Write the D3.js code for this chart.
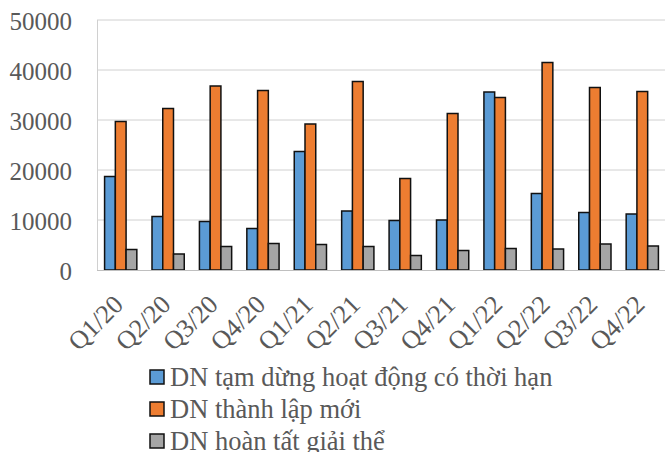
<!DOCTYPE html>
<html>
<head>
<meta charset="utf-8">
<script src="https://cdn.jsdelivr.net/npm/d3@7"></script>
<style>
  body { margin: 0; background: #fff; }
</style>
</head>
<body>
<svg width="665" height="452"></svg>
<script>
var quarters = ['Q1/20', 'Q2/20', 'Q3/20', 'Q4/20', 'Q1/21', 'Q2/21', 'Q3/21', 'Q4/21', 'Q1/22', 'Q2/22', 'Q3/22', 'Q4/22'];
var tamDung = [18700, 10700, 9700, 8300, 23700, 11800, 9900, 10000, 35600, 15300, 11500, 11200];
var thanhLap = [29700, 32300, 36800, 35900, 29200, 37700, 18300, 31300, 34500, 41500, 36500, 35700];
var giaiThe = [4100, 3200, 4700, 5300, 5100, 4700, 2900, 3900, 4300, 4200, 5200, 4800];
var seriesNames = ['DN tạm dừng hoạt động có thời hạn', 'DN thành lập mới', 'DN hoàn tất giải thể'];
var yTicks = [0, 10000, 20000, 30000, 40000, 50000];

var colors = ['#5B9BD5', '#ED7D31', '#A5A5A5'];
var series = [tamDung, thanhLap, giaiThe];
var serif = 'Liberation Serif';

var plotLeft = 97, plotRight = 666, plotTop = 20, plotBottom = 270;
var svg = d3.select('svg');

var x = d3.scaleBand().domain(quarters).range([plotLeft, plotRight]).paddingInner(0.32).paddingOuter(0.16);
var xs = d3.scaleBand().domain([0, 1, 2]).range([0, x.bandwidth()]);
var y = d3.scaleLinear().domain([0, 50000]).range([plotBottom, plotTop]);

// grid
svg.append('g')
    .selectAll('line')
    .data(yTicks.slice(1))
    .join('line')
    .attr('x1', plotLeft)
    .attr('x2', plotRight)
    .attr('y1', function(d) { return y(d); })
    .attr('y2', function(d) { return y(d); })
    .style('stroke', '#d0d0d0')
    .style('stroke-width', 1);

svg.append('line')
    .attr('x1', plotLeft + 0.5).attr('x2', plotLeft + 0.5)
    .attr('y1', plotTop).attr('y2', plotBottom)
    .style('stroke', '#d0d0d0');

// y axis labels
var yAxis = d3.axisLeft(y).tickValues(yTicks).tickSize(0).tickPadding(0).tickFormat(d3.format('d'));
svg.append('g')
    .attr('transform', 'translate(72,1)')
    .call(yAxis)
    .call(function(g) { g.select('.domain').remove(); })
    .selectAll('text')
    .style('font-family', serif)
    .style('font-size', '25px')
    .style('fill', '#595959');

// bars
series.forEach(function(vals, si) {
    svg.append('g')
        .selectAll('rect')
        .data(vals)
        .join('rect')
        .attr('x', function(d, i) { return x(quarters[i]) + xs(si); })
        .attr('y', function(d) { return y(d); })
        .attr('width', xs.bandwidth())
        .attr('height', function(d) { return plotBottom - y(d); })
        .style('fill', colors[si])
        .style('stroke', '#111')
        .style('stroke-width', 1.5);
});

// x axis line
svg.append('line')
    .attr('x1', plotLeft).attr('x2', plotRight)
    .attr('y1', plotBottom + 0.5).attr('y2', plotBottom + 0.5)
    .style('stroke', '#bfbfbf')
    .style('stroke-width', 1.2);

// x labels
svg.append('g')
    .selectAll('text')
    .data(quarters)
    .join('text')
    .attr('transform', function(d) {
        return 'translate(' + (x(d) + x.bandwidth() / 2 + 4) + ',' + 306 + ') rotate(-45)';
    })
    .attr('text-anchor', 'end')
    .style('font-family', serif)
    .style('font-size', '26px')
    .style('fill', '#595959')
    .text(function(d) { return d; });

// legend
var legend = svg.append('g')
    .selectAll('g')
    .data(seriesNames)
    .join('g')
    .attr('transform', function(d, i) { return 'translate(150,' + (377 + i * 32) + ')'; });

legend.append('rect')
    .attr('x', 0).attr('y', -7)
    .attr('width', 14).attr('height', 14)
    .style('fill', function(d, i) { return colors[i]; })
    .style('stroke', '#111')
    .style('stroke-width', 1.5);

legend.append('text')
    .attr('x', 20)
    .attr('y', 9)
    .style('font-family', serif)
    .style('font-size', '26.5px')
    .style('fill', '#595959')
    .text(function(d) { return d; });
</script>
</body>
</html>
